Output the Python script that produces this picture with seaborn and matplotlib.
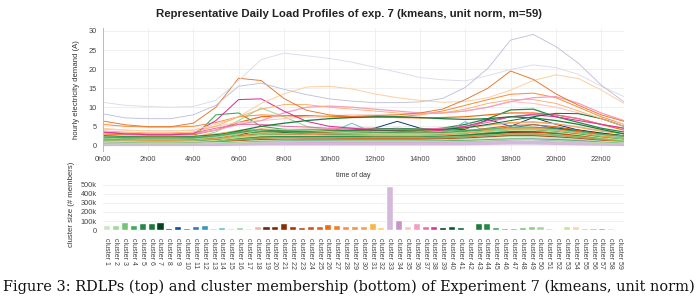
import numpy as np
import pandas as pd
import matplotlib
matplotlib.use('Agg')
import matplotlib.pyplot as plt
import seaborn as sns

# hours of the day and their labels
hours = list(range(24))
hour_ticks = list(range(0, 24, 2))
hour_labels = [f'{h}h00' for h in hour_ticks]

cluster_names = [f'cluster {i}' for i in range(1, 60)]

# number of members per cluster
cluster_sizes = [57000, 54000, 93000, 54000, 79000, 79000, 86000, 25000, 46000, 25000,
                 46000, 61000, 18000, 36000, 18000, 29000, 25000, 43000, 39000, 50000,
                 79000, 39000, 29000, 39000, 50000, 68000, 57000, 39000, 43000, 39000,
                 82000, 29000, 490000, 111000, 50000, 79000, 46000, 46000, 29000, 50000,
                 29000, 14000, 82000, 82000, 29000, 21000, 18000, 32000, 50000, 39000,
                 18000, 14000, 39000, 39000, 21000, 21000, 25000, 18000, 14000]

cluster_colors = ['#c7e9c0', '#a1d99b', '#74c476', '#41ab5d', '#238b45', '#1a7a3a', '#00441b',
                  '#08306b', '#08519c', '#2171b5', '#2b7bba', '#3a93c3',
                  '#a6dcd8', '#66c2c8', '#b3e6e2', '#99d594', '#d9f0a3',
                  '#e8b9b0', '#67280e', '#7f2704', '#8c2d04', '#a63603', '#b84a0c',
                  '#d45113', '#e0601a', '#f16913', '#f57e22', '#fd8d3c', '#f59540',
                  '#f8a04a', '#fdb444', '#fecc5c', '#d4b9da', '#c994c7', '#fcc5c0',
                  '#f59fc0', '#ec6fa5', '#dd3497', '#00441b', '#005a32', '#006d2c',
                  '#238b45', '#1d7e3b', '#238b45', '#41ab5d', '#4eb065', '#5dba6d',
                  '#74c476', '#8fcf85', '#a1d99b', '#b7e2a8', '#c7e9c0', '#c2e699',
                  '#fdd0a2', '#fdae6b', '#fd9a50', '#e6762a', '#dadaeb', '#bcbddc']

# representative daily load profiles (A), one list of 24 hourly values per cluster
profiles = [
    [0.8, 0.7, 0.7, 0.7, 0.7, 0.8, 1.0, 1.2, 1.3, 1.3, 1.3, 1.3, 1.3, 1.3, 1.3, 1.4, 1.5, 1.7, 1.9, 2.0, 1.8, 1.5, 1.2, 1.0],
    [2.0, 1.8, 1.7, 1.7, 2.0, 3.5, 6.5, 9.8, 7.5, 5.0, 4.0, 3.5, 3.3, 3.2, 3.0, 3.2, 3.5, 4.0, 4.5, 4.5, 4.0, 3.5, 3.0, 2.5],
    [0.9, 0.8, 0.8, 0.8, 0.8, 1.1, 1.8, 2.5, 2.5, 2.3, 2.2, 2.2, 2.2, 2.2, 2.2, 2.3, 2.5, 3.2, 3.9, 4.1, 3.8, 3.2, 2.5, 1.8],
    [2.0, 1.8, 1.7, 1.7, 2.0, 8.0, 8.5, 5.0, 4.2, 4.0, 3.8, 3.5, 3.5, 3.3, 3.2, 3.3, 3.5, 4.0, 4.5, 4.5, 4.2, 3.8, 3.0, 2.5],
    [1.8, 1.6, 1.5, 1.5, 1.6, 2.2, 3.0, 3.5, 3.5, 3.3, 3.2, 3.2, 3.3, 3.5, 4.0, 4.5, 5.5, 7.0, 9.3, 9.5, 7.5, 6.0, 4.5, 3.5],
    [1.2, 1.1, 1.0, 1.0, 1.1, 1.5, 2.2, 2.8, 2.8, 2.7, 2.6, 2.6, 2.6, 2.6, 2.6, 2.6, 2.7, 3.0, 3.5, 3.6, 3.3, 2.8, 2.1, 1.6],
    [1.9, 1.8, 1.7, 1.7, 1.8, 2.4, 3.5, 4.0, 3.4, 3.0, 2.8, 2.7, 2.7, 2.7, 2.7, 2.8, 3.0, 3.5, 4.2, 4.5, 4.5, 4.0, 3.2, 2.5],
    [1.5, 1.3, 1.2, 1.2, 1.3, 1.5, 2.0, 2.5, 3.0, 3.2, 3.5, 4.0, 4.5, 6.3, 4.5, 4.0, 4.2, 6.8, 5.0, 7.3, 5.5, 4.0, 3.0, 2.0],
    [0.5, 0.4, 0.4, 0.4, 0.4, 0.5, 0.8, 1.0, 1.2, 1.3, 1.4, 1.5, 1.6, 1.6, 1.5, 1.6, 1.8, 2.2, 2.5, 2.5, 2.2, 1.8, 1.2, 0.8],
    [1.0, 0.9, 0.8, 0.8, 0.9, 1.0, 1.5, 2.0, 2.5, 2.8, 3.0, 3.2, 3.0, 3.0, 2.8, 3.0, 3.5, 4.0, 4.5, 5.5, 4.5, 3.5, 2.5, 1.5],
    [0.4, 0.3, 0.3, 0.3, 0.3, 0.4, 0.6, 0.8, 0.9, 1.0, 1.0, 1.0, 1.0, 1.0, 1.0, 1.0, 1.1, 1.3, 1.5, 1.5, 1.3, 1.0, 0.7, 0.5],
    [1.0, 0.9, 0.9, 0.9, 0.9, 1.0, 1.3, 1.5, 1.6, 1.6, 1.6, 1.7, 1.7, 1.7, 1.7, 1.8, 2.0, 2.3, 2.7, 2.8, 2.5, 2.0, 1.5, 1.2],
    [1.0, 0.9, 0.9, 0.9, 0.9, 1.3, 2.0, 2.6, 2.6, 2.8, 2.8, 2.8, 2.6, 2.6, 2.6, 2.7, 2.9, 3.2, 3.5, 3.2, 2.9, 2.5, 1.9, 1.3],
    [1.5, 1.4, 1.4, 1.4, 1.5, 2.0, 2.8, 3.0, 2.8, 3.0, 3.3, 5.8, 3.2, 3.0, 2.8, 3.0, 6.2, 3.4, 3.2, 2.9, 2.6, 2.4, 2.1, 1.8],
    [1.2, 1.1, 1.0, 1.0, 1.1, 1.4, 2.0, 2.5, 2.8, 3.0, 3.0, 3.0, 3.0, 2.9, 2.9, 3.0, 3.3, 3.8, 4.0, 3.8, 3.3, 2.8, 2.2, 1.6],
    [0.6, 0.5, 0.5, 0.5, 0.5, 0.7, 1.2, 1.8, 2.0, 2.0, 2.0, 2.0, 2.0, 2.0, 2.0, 2.0, 2.2, 2.5, 2.8, 2.8, 2.5, 2.0, 1.4, 0.9],
    [1.5, 1.4, 1.3, 1.3, 1.4, 1.8, 2.5, 3.0, 3.2, 3.2, 3.2, 3.2, 3.0, 3.0, 3.0, 3.1, 3.3, 3.8, 4.2, 4.2, 3.8, 3.2, 2.5, 1.9],
    [2.5, 2.3, 2.2, 2.2, 2.3, 2.8, 3.5, 4.0, 4.2, 4.3, 4.3, 4.3, 4.3, 4.2, 4.2, 4.3, 4.7, 5.3, 5.8, 6.0, 5.6, 4.9, 3.9, 3.1],
    [1.5, 1.4, 1.3, 1.3, 1.4, 1.8, 2.5, 3.0, 3.0, 2.8, 2.7, 2.6, 2.6, 2.6, 2.6, 2.8, 3.2, 3.8, 4.3, 4.5, 4.2, 3.5, 2.7, 2.0],
    [1.0, 0.9, 0.9, 0.9, 0.9, 1.1, 1.6, 2.0, 2.1, 2.0, 2.0, 2.0, 2.0, 2.0, 2.0, 2.1, 2.4, 2.9, 3.4, 3.5, 3.2, 2.7, 2.0, 1.4],
    [1.2, 1.1, 1.1, 1.1, 1.1, 1.4, 2.0, 2.4, 2.3, 2.2, 2.1, 2.0, 2.0, 2.0, 2.0, 2.2, 2.5, 3.1, 3.6, 3.6, 3.2, 2.7, 2.1, 1.6],
    [1.6, 1.5, 1.4, 1.4, 1.5, 1.9, 2.6, 3.0, 2.9, 2.7, 2.6, 2.5, 2.5, 2.5, 2.5, 2.6, 3.0, 3.7, 4.3, 4.4, 4.0, 3.3, 2.5, 1.9],
    [0.7, 0.6, 0.6, 0.6, 0.6, 0.8, 1.2, 1.5, 1.6, 1.6, 1.6, 1.6, 1.6, 1.6, 1.6, 1.7, 1.9, 2.2, 2.5, 2.5, 2.2, 1.8, 1.3, 0.9],
    [0.9, 0.8, 0.8, 0.8, 0.8, 1.1, 1.8, 2.5, 2.7, 2.7, 2.6, 2.5, 2.4, 2.4, 2.4, 2.4, 2.7, 3.2, 3.6, 3.6, 3.2, 2.5, 1.8, 1.2],
    [2.0, 1.9, 1.8, 1.8, 1.9, 2.5, 3.6, 4.2, 3.8, 3.5, 3.3, 3.2, 3.2, 3.2, 3.2, 3.3, 3.8, 4.5, 5.2, 5.4, 4.9, 3.9, 3.0, 2.4],
    [3.0, 2.8, 2.7, 2.7, 2.8, 4.0, 6.0, 7.5, 7.8, 7.8, 7.6, 7.5, 7.5, 7.3, 7.2, 7.3, 7.5, 8.0, 8.5, 8.5, 8.0, 7.0, 5.5, 4.0],
    [0.9, 0.8, 0.8, 0.8, 0.8, 1.0, 1.5, 1.9, 2.0, 2.0, 2.0, 1.9, 1.9, 1.9, 1.9, 2.0, 2.2, 2.6, 3.0, 3.0, 2.7, 2.2, 1.6, 1.1],
    [5.5, 5.0, 4.8, 4.8, 5.0, 6.0, 7.5, 8.0, 7.8, 7.5, 7.5, 7.3, 7.3, 7.5, 8.0, 9.0, 10.5, 12.0, 13.4, 13.7, 12.5, 10.0, 7.5, 5.5],
    [1.3, 1.2, 1.1, 1.1, 1.2, 1.5, 2.2, 2.6, 2.6, 2.5, 2.5, 2.4, 2.4, 2.4, 2.4, 2.5, 2.8, 3.3, 3.8, 3.9, 3.5, 2.9, 2.2, 1.7],
    [2.6, 2.4, 2.3, 2.3, 2.4, 3.0, 3.9, 4.3, 4.1, 4.0, 3.9, 3.9, 3.9, 3.9, 3.9, 4.0, 4.5, 5.3, 6.0, 6.2, 5.7, 4.7, 3.7, 3.0],
    [1.3, 1.2, 1.1, 1.1, 1.2, 1.5, 2.2, 2.6, 2.6, 2.5, 2.4, 2.3, 2.3, 2.3, 2.3, 2.4, 2.7, 3.2, 3.8, 3.9, 3.5, 2.9, 2.1, 1.6],
    [1.7, 1.6, 1.5, 1.5, 1.6, 2.0, 2.9, 3.3, 3.2, 3.1, 3.0, 2.9, 2.9, 2.9, 2.9, 3.1, 3.4, 4.0, 4.5, 4.6, 4.1, 3.4, 2.6, 2.0],
    [0.3, 0.3, 0.3, 0.3, 0.3, 0.3, 0.4, 0.5, 0.5, 0.5, 0.5, 0.5, 0.5, 0.5, 0.5, 0.5, 0.5, 0.6, 0.7, 0.7, 0.6, 0.5, 0.4, 0.3],
    [0.6, 0.5, 0.5, 0.5, 0.5, 0.6, 0.9, 1.1, 1.1, 1.0, 1.0, 1.0, 1.0, 1.0, 1.0, 1.0, 1.1, 1.3, 1.5, 1.6, 1.5, 1.3, 1.0, 0.8],
    [4.2, 4.0, 3.8, 3.8, 4.0, 5.0, 6.0, 6.5, 7.0, 7.5, 7.8, 8.0, 8.0, 8.0, 8.2, 8.5, 9.0, 10.0, 11.5, 11.0, 10.0, 8.5, 7.0, 5.5],
    [3.2, 3.0, 2.9, 2.9, 3.0, 4.0, 5.5, 6.5, 8.5, 10.0, 10.3, 10.0, 9.5, 9.0, 8.5, 8.5, 9.0, 10.0, 11.5, 12.5, 12.8, 11.0, 8.5, 6.5],
    [3.5, 3.2, 3.0, 3.0, 3.2, 4.5, 5.5, 5.5, 5.0, 4.8, 4.5, 4.5, 4.5, 4.3, 4.3, 4.5, 5.0, 6.0, 7.5, 8.2, 8.0, 7.0, 5.5, 4.5],
    [3.5, 3.0, 2.8, 2.8, 3.0, 6.5, 12.0, 12.2, 9.0, 6.3, 5.0, 4.5, 4.0, 3.8, 3.5, 4.0, 5.0, 6.5, 7.5, 8.0, 7.5, 6.5, 5.5, 4.5],
    [1.5, 1.4, 1.3, 1.3, 1.4, 1.8, 2.6, 4.2, 3.4, 3.0, 2.8, 2.7, 2.6, 2.6, 2.6, 2.7, 3.0, 3.4, 3.9, 4.0, 3.6, 3.0, 2.2, 1.8],
    [1.2, 1.1, 1.1, 1.1, 1.1, 1.4, 1.8, 2.1, 2.2, 2.3, 2.4, 2.4, 2.4, 2.4, 2.4, 2.5, 2.7, 3.1, 3.6, 3.8, 3.6, 3.1, 2.4, 1.7],
    [2.5, 2.3, 2.2, 2.2, 2.3, 2.8, 3.5, 4.0, 4.0, 4.0, 4.0, 4.0, 4.0, 4.0, 4.0, 4.2, 4.6, 5.5, 6.5, 7.5, 8.4, 8.3, 7.0, 5.0],
    [2.0, 1.9, 1.8, 1.8, 1.9, 2.3, 3.2, 3.7, 3.6, 3.6, 3.7, 3.9, 4.3, 4.5, 4.3, 4.1, 3.9, 3.9, 4.3, 4.3, 3.9, 3.4, 2.7, 2.1],
    [2.0, 1.9, 1.8, 1.8, 1.9, 2.5, 3.8, 5.0, 5.8, 6.5, 7.0, 7.3, 7.5, 7.5, 7.3, 7.0, 6.8, 7.0, 7.5, 7.2, 6.5, 5.5, 4.2, 3.0],
    [1.0, 0.9, 0.9, 0.9, 0.9, 1.2, 1.8, 2.2, 2.3, 2.3, 2.3, 2.3, 2.3, 2.3, 2.3, 2.4, 2.7, 3.2, 3.7, 3.8, 3.5, 3.0, 2.2, 1.6],
    [2.1, 2.0, 1.9, 1.9, 2.0, 2.4, 3.3, 3.6, 3.5, 3.3, 3.2, 3.2, 3.2, 3.2, 3.2, 3.3, 3.7, 4.3, 4.8, 4.8, 4.3, 3.6, 2.8, 2.2],
    [0.5, 0.5, 0.5, 0.5, 0.5, 0.6, 0.9, 1.1, 1.2, 1.2, 1.2, 1.2, 1.2, 1.2, 1.2, 1.2, 1.3, 1.5, 1.7, 1.7, 1.5, 1.2, 0.9, 0.6],
    [2.3, 2.2, 2.1, 2.1, 2.2, 2.6, 3.5, 4.2, 4.0, 3.9, 3.7, 3.6, 3.5, 3.5, 3.5, 3.6, 4.0, 4.3, 4.5, 4.3, 4.0, 3.5, 2.9, 2.5],
    [1.0, 0.9, 0.9, 0.9, 0.9, 1.1, 1.6, 2.0, 2.1, 2.1, 2.1, 2.1, 2.1, 2.1, 2.1, 2.2, 2.4, 2.8, 3.1, 3.1, 2.8, 2.3, 1.7, 1.2],
    [1.4, 1.3, 1.2, 1.2, 1.3, 1.7, 2.4, 2.9, 3.0, 3.0, 3.0, 3.0, 3.0, 3.0, 3.0, 3.1, 3.4, 3.9, 4.4, 4.4, 4.0, 3.3, 2.4, 1.7],
    [1.9, 1.7, 1.7, 1.7, 1.7, 2.2, 3.0, 4.0, 4.2, 4.0, 3.6, 3.3, 3.1, 3.0, 3.0, 3.0, 3.3, 3.7, 4.2, 4.2, 3.8, 3.2, 2.6, 2.1],
    [0.4, 0.4, 0.4, 0.4, 0.4, 0.5, 0.7, 0.9, 1.0, 1.0, 1.0, 1.0, 1.0, 1.0, 1.0, 1.0, 1.1, 1.3, 1.5, 1.5, 1.3, 1.0, 0.7, 0.5],
    [0.7, 0.6, 0.6, 0.6, 0.6, 0.7, 1.0, 1.3, 1.4, 1.4, 1.4, 1.4, 1.4, 1.4, 1.4, 1.5, 1.7, 2.0, 2.3, 2.3, 2.0, 1.6, 1.1, 0.8],
    [1.1, 1.0, 0.9, 0.9, 1.0, 1.3, 2.0, 2.5, 2.6, 2.6, 2.6, 2.6, 2.6, 2.6, 2.6, 2.7, 3.0, 3.5, 3.9, 3.9, 3.5, 2.8, 2.0, 1.4],
    [4.5, 4.0, 3.8, 3.8, 4.0, 5.5, 7.5, 11.0, 13.5, 15.3, 15.5, 14.8, 13.5, 12.5, 11.8, 11.3, 11.5, 12.5, 14.5, 17.0, 18.5, 17.5, 14.5, 11.0],
    [3.8, 3.5, 3.3, 3.3, 3.5, 5.0, 7.5, 9.5, 10.7, 10.7, 10.0, 9.5, 9.0, 8.5, 8.2, 8.5, 9.5, 11.0, 12.0, 12.0, 11.0, 9.0, 7.0, 5.0],
    [1.5, 1.4, 1.3, 1.3, 1.4, 1.8, 2.7, 3.2, 3.0, 2.9, 2.7, 2.6, 2.5, 2.5, 2.5, 2.7, 3.2, 3.9, 4.5, 4.5, 4.1, 3.3, 2.4, 1.9],
    [6.4, 5.4, 4.9, 4.9, 5.8, 10.0, 17.6, 17.0, 12.3, 9.2, 8.0, 7.6, 7.8, 8.0, 8.5, 9.5, 12.0, 15.0, 19.5, 17.3, 13.5, 10.5, 8.0, 6.3],
    [11.3, 10.5, 10.2, 10.0, 10.2, 11.8, 17.0, 22.5, 24.2, 23.5, 22.8, 21.8, 20.5, 19.2, 17.8, 17.2, 16.9, 18.3, 19.9, 21.1, 20.4, 18.6, 15.5, 12.8],
    [8.3, 7.2, 7.0, 7.0, 8.0, 10.5, 15.5, 16.3, 14.7, 13.3, 12.2, 11.6, 11.2, 11.2, 11.4, 12.3, 15.2, 20.2, 27.6, 29.1, 25.9, 21.5, 15.8, 11.4],
]

sns.set_style('whitegrid')
plt.rcParams['font.family'] = ['Liberation Sans', 'DejaVu Sans']

fig = plt.figure(figsize=(6.98, 3.02), dpi=100)
ax1 = fig.add_axes([0.1469, 0.501, 0.747, 0.4053])
ax2 = fig.add_axes([0.1469, 0.2318, 0.747, 0.1689])

# --- top: load profiles ---
df = pd.DataFrame({
    'hour': hours * len(cluster_names),
    'demand': [v for p in profiles for v in p],
    'cluster': np.repeat(cluster_names, len(hours)),
})
palette = dict(zip(cluster_names, cluster_colors))
widths = {n: 0.55 + s / 220000 for n, s in zip(cluster_names, cluster_sizes)}
sns.lineplot(data=df, x='hour', y='demand', hue='cluster', size='cluster',
             palette=palette, sizes=widths, hue_order=cluster_names,
             estimator=None, errorbar=None, legend=False, ax=ax1)

ax1.set_xlim(0, 23)
ax1.set_ylim(-1.4, 30.7)
ax1.set_xticks(hour_ticks)
ax1.set_xticklabels(hour_labels)
ax1.set_yticks(range(0, 31, 5))
ax1.grid(color='#ececec', lw=0.6)
for s in ['top', 'right', 'bottom']:
    ax1.spines[s].set_visible(False)
ax1.spines['left'].set_color('#bbbbbb')
ax1.spines['left'].set_linewidth(0.7)
ax1.tick_params(labelsize=5.3, colors='#444444', length=0, pad=4)
ax1.set_ylabel('hourly electricity demand (A)', fontsize=5.6, color='#333333')
ax1.yaxis.set_label_coords(-0.043, 0.5)
ax1.set_xlabel('time of day', fontsize=5, color='#333333')
ax1.xaxis.set_label_coords(0.48, -0.17)

fig.text(0.5, 1 - 14 / 302, 'Representative Daily Load Profiles of exp. 7 (kmeans, unit norm, m=59)',
         ha='center', va='center', fontsize=8.2, fontweight='bold', color='#222222')

# --- bottom: cluster sizes ---
sns.barplot(x=cluster_names, y=cluster_sizes, hue=cluster_names, palette=cluster_colors,
            saturation=1, width=0.8, dodge=False, legend=False, ax=ax2)
ax2.set_xlim(-0.5, len(cluster_names) - 0.5)
ax2.set_ylim(-22000, 544000)
ax2.set_yticks(range(0, 500001, 100000))
ax2.set_yticklabels(['0', '100k', '200k', '300k', '400k', '500k'])
ax2.grid(axis='y', color='#ececec', lw=0.6)
ax2.grid(axis='x', visible=False)
for s in ['top', 'right', 'bottom', 'left']:
    ax2.spines[s].set_visible(False)
ax2.tick_params(axis='y', labelsize=5.3, colors='#444444', length=0, pad=4)
ax2.tick_params(axis='x', labelsize=5, colors='#444444', length=2.5, width=0.5,
                color='#aaaaaa', pad=2, labelrotation=270)
ax2.set_ylabel('cluster size (# members)', fontsize=5.6, color='#333333')
ax2.yaxis.set_label_coords(-0.053, 0.55)

# --- caption ---
caption = fig.text(0.5, 1 - 287 / 302,
                   'Figure 3: RDLPs (top) and cluster membership (bottom) of Experiment 7 (kmeans, unit norm)',
                   ha='center', va='center', family='DejaVu Serif', fontsize=10, color='#111111')
fig.canvas.draw()
w = caption.get_window_extent().width
caption.set_fontsize(10 * 692 / w)

fig.savefig('out.png', dpi=100)
